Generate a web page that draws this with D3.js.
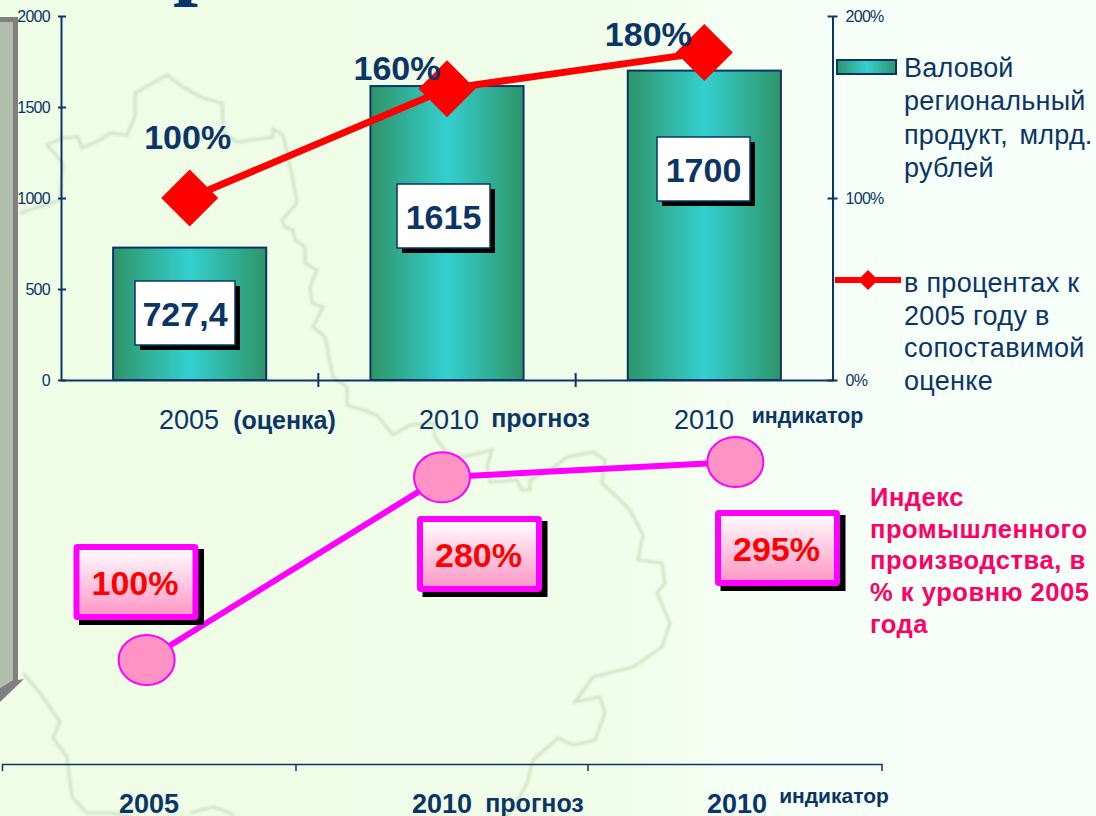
<!DOCTYPE html>
<html><head><meta charset="utf-8">
<script src="https://cdnjs.cloudflare.com/ajax/libs/d3/7.8.5/d3.min.js"></script>
<style>html,body{margin:0;padding:0;background:#f2fdeb}svg{display:block}text{font-family:"Liberation Sans",Arial,sans-serif}</style>
</head><body><svg id="c" width="1096" height="816"></svg>
<script>
const categories = ["2005", "2010", "2010 "];
const grpValues = [727.4, 1615, 1700];
const grpLabels = ["727,4", "1615", "1700"];
const pctValues = [100, 160, 180];
const pctLabels = ["100%", "160%", "180%"];
const leftTicks = [0, 500, 1000, 1500, 2000];
const rightTicks = [0, 100, 200];
const topCatMain = ["2005", "2010", "2010"];
const topCatSub = ["(оценка)", "прогноз", "индикатор"];
const indexValues = [100, 280, 295];
const indexLabels = ["100%", "280%", "295%"];
const botCatMain = ["2005", "2010", "2010"];
const botCatSub = ["", "прогноз", "индикатор"];
const legendBar = ["Валовой", "региональный", "продукт, млрд.", "рублей"];
const legendLine = ["в процентах к", "2005 году в", "сопоставимой", "оценке"];
const indexTitle = ["Индекс", "промышленного", "производства, в", "% к уровню 2005", "года"];

const navy = "#0b3566", svg = d3.select("#c"), defs = svg.append("defs");
function grad(id, stops, x2, y2) {
  const g = defs.append("linearGradient").attr("id", id).attr("x1", 0).attr("y1", 0).attr("x2", x2).attr("y2", y2);
  stops.forEach(s => g.append("stop").attr("offset", s[0]).attr("stop-color", s[1]));
}
grad("bg", [[0, "#effce6"], [0.55, "#f0fde8"], [0.68, "#f5fff6"], [1, "#f7fffa"]], 1, 0);
grad("bar", [[0, "#2f9468"], [0.5, "#33d0d0"], [1, "#2f9468"]], 1, 0);
grad("pink", [[0, "#ffffff"], [1, "#ff94c4"]], 0, 1);
const f = defs.append("filter").attr("id", "soft").attr("x", "-5%").attr("y", "-5%").attr("width", "110%").attr("height", "110%");
f.append("feGaussianBlur").attr("stdDeviation", 0.8);

svg.append("rect").attr("width", 1096).attr("height", 816).attr("fill", "url(#bg)");

// faint regional map behind the charts (decorative background)
const mapOutline = "M20 213L60 200L63 163L47 145L62 138L78 137L82 148L100 140L110 133L127 135L135 117L135 93L167 75L183 87L203 98L222 103L223 132L237 142L273 137L273 129L283 135L288 157L293 180L297 203L282 220L285 227L293 230L295 240L305 247L305 263L317 270L310 287L312 303L323 307L313 327L325 337L333 377L347 387L347 405L363 410L377 415L393 435L410 425L433 423L435 437L447 453L463 457L492 450L487 467L490 482L517 480L522 490L530 490L530 480L553 468L567 457L593 452L605 460L602 483L617 497L630 510L643 535L638 560L662 563L665 583L657 593L670 623L662 647L633 667L593 677L575 702L600 697L605 713L595 740L573 745L558 738L533 760L527 783L513 810L505 816M23 673L40 693L60 722L53 738L67 757L72 797L87 813L110 813L130 816M190 813L213 807L230 813L234 816";
svg.append("path").attr("d", mapOutline).attr("fill", "none").attr("stroke", "#d3e5c9").attr("stroke-width", 3.2).attr("filter", "url(#soft)");

// left slide panel fragment
svg.append("path").attr("d", "M0 22H13V680L0 688Z").attr("fill", "#b3bdae");
svg.append("path").attr("d", "M0 17H18V680L24 679L0 702V688L13 680V22H0Z").attr("fill", "#808080");
// clipped title glyph
svg.append("text").attr("x", 198).attr("y", -12).attr("text-anchor", "middle").attr("font-size", 90).attr("font-weight", 700)
  .style("font-family", "'Liberation Serif',serif").attr("fill", navy).text("р");

// ---------- top chart ----------
const x = d3.scaleBand().domain(categories).range([61, 833]).paddingInner(0.405).paddingOuter(0.2025);
const yL = d3.scaleLinear().domain([0, 2000]).range([380, 16]);
const yR = d3.scaleLinear().domain([0, 200]).range([380, 16]);
const cx = d => x(d) + x.bandwidth() / 2;

const tickStyle = (g) => {
  g.selectAll("path").attr("stroke", navy).attr("stroke-width", 2);
  g.selectAll("line").attr("stroke", navy).attr("stroke-width", 2);
  g.selectAll("text").attr("fill", navy).attr("font-size", 16).style("letter-spacing", "-0.7px");
};
svg.append("g").attr("transform", "translate(61,0)")
  .call(d3.axisLeft(yL).tickValues(leftTicks).tickFormat(d3.format("d")).tickSize(3).tickSizeOuter(0).tickPadding(8)).call(tickStyle)
  .selectAll("line").attr("x1", -3).attr("x2", 5);
svg.append("g").attr("transform", "translate(832.5,0)")
  .call(d3.axisRight(yR).tickValues(rightTicks).tickFormat(d => d + "%").tickSize(5).tickSizeOuter(0).tickPadding(8)).call(tickStyle)
  .selectAll("line").attr("x1", -5).attr("x2", 5);
svg.append("g").attr("transform", "translate(0,380)").call(d3.axisBottom(x).tickValues([]).tickSizeOuter(0)).call(tickStyle);
[1, 2].forEach(n => {
  const px = 61 + x.step() * n;
  svg.append("line").attr("x1", px).attr("x2", px).attr("y1", 373).attr("y2", 387).attr("stroke", navy).attr("stroke-width", 2);
});

svg.selectAll(".bar").data(grpValues).join("rect").attr("class", "bar")
  .attr("x", (d, i) => x(categories[i])).attr("width", x.bandwidth())
  .attr("y", d => yL(d)).attr("height", d => 380 - yL(d))
  .attr("fill", "url(#bar)").attr("stroke", navy).attr("stroke-width", 2);

// value boxes on the bars
const boxX = [135, 397, 657], boxW = [100, 93, 93], boxTop = [281, 184, 137];
grpValues.forEach((d, i) => {
  const h = 64;
  svg.append("rect").attr("x", boxX[i] + 5).attr("y", boxTop[i] + 5).attr("width", boxW[i]).attr("height", h).attr("fill", "#000");
  svg.append("rect").attr("x", boxX[i]).attr("y", boxTop[i]).attr("width", boxW[i]).attr("height", h).attr("fill", "#fff").attr("stroke", navy).attr("stroke-width", 1.5);
  svg.append("text").attr("x", boxX[i] + boxW[i] / 2).attr("y", boxTop[i] + 45).attr("text-anchor", "middle").attr("font-size", 34).attr("font-weight", 700).attr("fill", navy).text(grpLabels[i]);
});

const line = d3.line().x((d, i) => cx(categories[i])).y(d => yR(d));
svg.append("path").attr("d", line(pctValues)).attr("fill", "none").attr("stroke", "#ff0000").attr("stroke-width", 7);
svg.selectAll(".dia").data(pctValues).join("path").attr("class", "dia")
  .attr("d", "M0 -28.5L28.5 0L0 28.5L-28.5 0Z").attr("fill", "#ff0000")
  .attr("transform", (d, i) => `translate(${cx(categories[i])},${yR(d)})`);
const pctDx = [-2, -50, -56], pctDy = [-49, -9, -6];
pctValues.forEach((d, i) => {
  svg.append("text").attr("x", cx(categories[i]) + pctDx[i]).attr("y", yR(d) + pctDy[i]).attr("text-anchor", "middle")
    .attr("font-size", 34).attr("font-weight", 700).attr("fill", navy).text(pctLabels[i]);
});

const topMainX = [189, 449, 704], topSubX = [284.5, 540.5, 807.5], topSubY = [429, 427, 423];
categories.forEach((c, i) => {
  svg.append("text").attr("x", topMainX[i]).attr("y", 429).attr("text-anchor", "middle").attr("font-size", 27).attr("fill", navy).text(topCatMain[i]);
  svg.append("text").attr("x", topSubX[i]).attr("y", topSubY[i]).attr("text-anchor", "middle").attr("font-size", i === 2 ? 21.4 : 25).attr("font-weight", 700)
    .attr("fill", navy).text(topCatSub[i]);
});

// legend
svg.append("rect").attr("x", 837).attr("y", 60).attr("width", 59).attr("height", 14).attr("fill", "url(#bar)").attr("stroke", navy).attr("stroke-width", 2);
legendBar.forEach((t, i) => svg.append("text").attr("x", 904).attr("y", 77 + i * 33.4).attr("font-size", 27).style("letter-spacing", "0.2px").style("word-spacing", "4px").attr("fill", navy).text(t));
svg.append("line").attr("x1", 835).attr("x2", 901).attr("y1", 280).attr("y2", 280).attr("stroke", "#ff0000").attr("stroke-width", 6);
svg.append("path").attr("d", "M868 270L878 280L868 290L858 280Z").attr("fill", "#ff0000");
legendLine.forEach((t, i) => svg.append("text").attr("x", 904).attr("y", 292 + i * 32.7).attr("font-size", 27).style("letter-spacing", "0.3px").attr("fill", navy).text(t));

// ---------- bottom chart ----------
const xb = d3.scaleBand().domain(categories).range([2, 882]);
const yb = d3.scaleLinear().domain([100, 295]).range([660, 462]);
const cb = d => xb(d) + xb.bandwidth() / 2;
const magenta = "#ff00ff";
const ptX = (i) => cb(categories[i]) + (i === 0 ? -2 : 0);
const lineB = d3.line().x((d, i) => ptX(i)).y(d => yb(d));
svg.append("path").attr("d", lineB(indexValues)).attr("fill", "none").attr("stroke", magenta).attr("stroke-width", 6);
svg.selectAll(".pt").data(indexValues).join("ellipse").attr("class", "pt")
  .attr("cx", (d, i) => ptX(i)).attr("cy", d => yb(d)).attr("rx", 28).attr("ry", 25)
  .attr("fill", "#ff94c4").attr("stroke", magenta).attr("stroke-width", 2);

const pBoxX = [73.5, 417, 715], pBoxY = [544, 516, 510];
indexValues.forEach((d, i) => {
  const w = 125, h = 76;
  svg.append("rect").attr("x", pBoxX[i] + 5.5).attr("y", pBoxY[i] + 5).attr("width", w).attr("height", h).attr("fill", "#000");
  svg.append("rect").attr("x", pBoxX[i] + 3).attr("y", pBoxY[i] + 3).attr("width", w - 6).attr("height", h - 6).attr("fill", "url(#pink)").attr("stroke", magenta).attr("stroke-width", 6).attr("rx", 1);
  svg.append("text").attr("x", pBoxX[i] + w / 2 - 1).attr("y", pBoxY[i] + 51).attr("text-anchor", "middle").attr("font-size", 34).attr("font-weight", 700).attr("fill", "#ff0000").text(indexLabels[i]);
});

indexTitle.forEach((t, i) => svg.append("text").attr("x", 870).attr("y", 506 + i * 31.7).attr("font-size", 25.5).attr("font-weight", 700).style("letter-spacing", "0.55px").attr("fill", "#ff0066").text(t));

svg.append("path").attr("d", "M2.5 771V764.5H882V771").attr("fill", "none").attr("stroke", navy).attr("stroke-width", 1.5);
[296, 588].forEach(v => svg.append("line").attr("x1", v).attr("x2", v).attr("y1", 764).attr("y2", 771).attr("stroke", navy).attr("stroke-width", 1.5));
const botMainX = [149, 442, 737], botSubX = [0, 534.5, 834], botSubY = [0, 812, 803];
categories.forEach((c, i) => {
  svg.append("text").attr("x", botMainX[i]).attr("y", 813).attr("text-anchor", "middle").attr("font-size", 27).attr("font-weight", 700).attr("fill", navy).text(botCatMain[i]);
  if (botCatSub[i]) svg.append("text").attr("x", botSubX[i]).attr("y", botSubY[i]).attr("text-anchor", "middle").attr("font-size", i === 2 ? 21 : 25).attr("font-weight", 700)
    .attr("fill", navy).text(botCatSub[i]);
});
</script></body></html>
